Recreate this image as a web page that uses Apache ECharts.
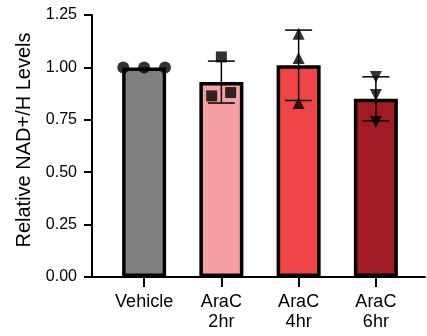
<!DOCTYPE html>
<html>
<head>
<meta charset="utf-8">
<script src="https://cdn.jsdelivr.net/npm/echarts@6/dist/echarts.min.js"></script>
<style>html,body{margin:0;padding:0;background:#fff}#c{width:427px;height:336px}</style>
</head>
<body>
<div id="c"></div>
<script>
const categories = ['Vehicle', 'AraC\n2hr', 'AraC\n4hr', 'AraC\n6hr'];
const means = [1.00, 0.93, 1.01, 0.85];
const sds = [0, 0.10, 0.168, 0.105];
const barColors = ['#808080', '#F5A0A3', '#F04547', '#A01B23'];
const yTicks = [0, 0.25, 0.5, 0.75, 1.0, 1.25];
const vehiclePts = [[-0.27, 1.0], [0, 1.0], [0.27, 1.0]];
const h2Pts = [[1, 1.05], [0.875, 0.864], [1.12, 0.88]];
const h4Pts = [[2, 1.16], [2, 1.045], [2, 0.83]];
const h6Pts = [[3, 0.954], [3, 0.868], [3, 0.74]];

const FONT = 'Liberation Sans, Arial, sans-serif';
const chart = echarts.init(document.getElementById('c'), null, {renderer: 'canvas'});

const errData = means.map((m, i) => [i, m, sds[i]]);

chart.setOption({
  animation: false,
  grid: [
    {left: 105.5, width: 309, top: 15, bottom: 59},
    {left: 92, right: 2, top: 15, bottom: 59}
  ],
  xAxis: [
    {
      type: 'category', gridIndex: 0, data: categories,
      axisLine: {show: false},
      axisTick: {show: true, alignWithLabel: true, length: 10, lineStyle: {color: '#000', width: 2}},
      axisLabel: {color: '#000', fontSize: 18, fontFamily: FONT, margin: 15, lineHeight: 20}
    },
    {
      type: 'value', gridIndex: 1, min: 0, max: 1,
      axisLine: {show: true, onZero: false, lineStyle: {color: '#000', width: 2}},
      axisTick: {show: false}, axisLabel: {show: false}, splitLine: {show: false}
    },
    {
      type: 'value', gridIndex: 0, min: -0.5, max: 3.5, show: false
    }
  ],
  yAxis: [
    {type: 'value', gridIndex: 0, min: 0, max: 1.25, show: false, splitLine: {show: false}},
    {
      type: 'value', gridIndex: 1, min: 0, max: 1.25, interval: 0.25,
      name: 'Relative NAD+/H Levels', nameLocation: 'middle', nameGap: 55,
      nameTextStyle: {color: '#000', fontSize: 20, fontFamily: FONT, padding: [0, 0, 0, 12]},
      axisLine: {show: true, lineStyle: {color: '#000', width: 2}},
      axisTick: {show: true, length: 8, lineStyle: {color: '#000', width: 2}},
      axisLabel: {color: '#000', fontSize: 16, fontFamily: FONT, margin: 15,
        formatter: v => v.toFixed(2)},
      splitLine: {show: false}
    }
  ],
  series: [
    {
      type: 'bar', xAxisIndex: 0, yAxisIndex: 0, barWidth: 44,
      data: means.map((m, i) => ({value: m, itemStyle: {color: barColors[i]}})),
      itemStyle: {borderColor: '#000', borderWidth: 3.5},
      z: 2
    },
    {
      type: 'custom', xAxisIndex: 2, yAxisIndex: 0, z: 3,
      data: errData,
      renderItem: function (params, api) {
        const x = api.value(0), m = api.value(1), s = api.value(2);
        if (s <= 0) return null;
        const top = api.coord([x, m + s]);
        const bot = api.coord([x, m - s]);
        const hw = 13.5;
        const style = {stroke: '#000', lineWidth: 1.5};
        return {
          type: 'group',
          children: [
            {type: 'line', shape: {x1: top[0], y1: top[1], x2: bot[0], y2: bot[1]}, style: style},
            {type: 'line', shape: {x1: top[0] - hw, y1: top[1], x2: top[0] + hw, y2: top[1]}, style: style},
            {type: 'line', shape: {x1: bot[0] - hw, y1: bot[1], x2: bot[0] + hw, y2: bot[1]}, style: style}
          ]
        };
      }
    },
    {type: 'scatter', xAxisIndex: 2, yAxisIndex: 0, z: 4, symbol: 'circle', symbolSize: 12,
      itemStyle: {color: '#000'}, data: vehiclePts},
    {type: 'scatter', xAxisIndex: 2, yAxisIndex: 0, z: 4, symbol: 'rect', symbolSize: 11,
      itemStyle: {color: '#000'}, data: h2Pts},
    {type: 'scatter', xAxisIndex: 2, yAxisIndex: 0, z: 4, symbol: 'triangle', symbolSize: 12,
      itemStyle: {color: '#000'}, data: h4Pts},
    {type: 'scatter', xAxisIndex: 2, yAxisIndex: 0, z: 4, symbol: 'triangle', symbolSize: 12, symbolRotate: 180,
      itemStyle: {color: '#000'}, data: h6Pts}
  ]
});
</script>
</body>
</html>
